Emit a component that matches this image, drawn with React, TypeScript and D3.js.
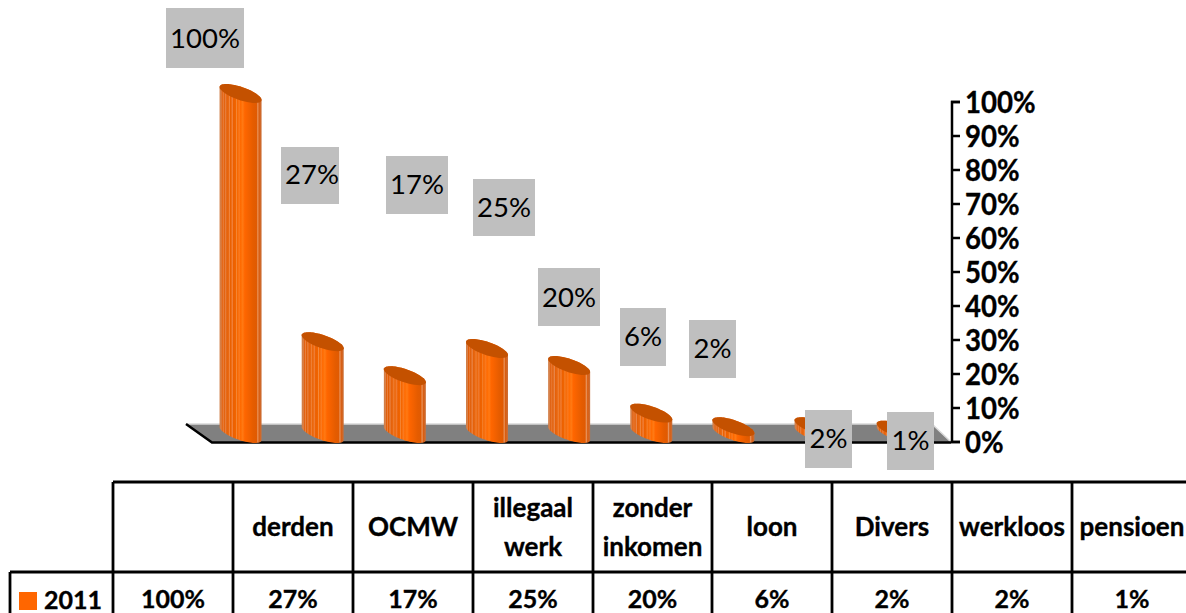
import React from "react";
import * as d3 from "d3";

const categories = ["", "derden", "OCMW", "illegaal werk", "zonder inkomen", "loon", "Divers", "werkloos", "pensioen"];
const values2011 = [100, 27, 17, 25, 20, 6, 2, 2, 1];
const seriesName = "2011";
const axisTicks = [0, 10, 20, 30, 40, 50, 60, 70, 80, 90, 100];
// label box layout: left, top, width, height, text nudge x, text nudge y
const labelBoxes = [
  [166, 8, 78, 60, 0, 0], [281, 147, 58, 57, 2, -2], [386, 156, 62, 58, 0, -1], [473, 179, 62, 57, 0, -1], [538, 268, 62, 58, 0, 0],
  [620, 308, 46, 58, 0, -1], [689, 320, 47, 58, 0, -1], [805, 410, 47, 58, 0, -1], [887, 412, 47, 58, 0, -1],
];
const tableCols = [113, 233, 353, 473, 593, 712, 832, 952, 1072, 1192];
const gradientStops: [number, string][] = [
  [0, "#cf7a42"], [0.04, "#d9824a"], [0.06, "#e25c08"], [0.09, "#e8813f"], [0.11, "#e25c04"], [0.15, "#e8864a"], [0.17, "#e46008"],
  [0.22, "#ea6a14"], [0.24, "#f08a45"], [0.26, "#ea6000"], [0.31, "#f0803a"], [0.33, "#ec6000"], [0.38, "#f06400"], [0.4, "#f58a3c"],
  [0.42, "#f56600"], [0.47, "#fa7a20"], [0.5, "#ff6a00"], [0.55, "#ff7a14"], [0.6, "#ff6600"], [0.72, "#f06000"], [0.8, "#e55c00"],
  [0.88, "#e05a02"], [0.91, "#e8935c"], [0.94, "#d95d10"], [1, "#c9703a"],
];

const FONT = "Lato, sans-serif";

function Squeezed({ x, y, sx, anchor, size, bold, children }: any) {
  return (
    <text
      transform={`translate(${x},${y}) scale(${sx},1)`}
      textAnchor={anchor}
      fontSize={size}
      fontWeight={bold ? 700 : 400}
      stroke={bold ? "#000" : "none"}
      strokeWidth={bold ? 0.35 : 0}
      fill="#000"
    >
      {children}
    </text>
  );
}

export default function App() {
  const y = d3.scaleLinear().domain([0, 100]).range([442, 102]);
  const x = d3.scaleBand<number>().domain(d3.range(9)).range([199.5, 938.8]).paddingInner(0.5).paddingOuter(0.25);
  const stepCenter = (i: number) => (x(i) as number) + x.bandwidth() / 2;
  const a = 21, b = 6.9, k = 6.5;
  const baseDrop = 8.5; // ellipse centre offset above the floor front edge
  const ell = (cx: number, cy: number, from: number, to: number) =>
    d3.range(0, 41).map((n) => {
      const t = from + ((to - from) * n) / 40;
      return [cx + a * Math.cos(t), cy + b * Math.sin(t) + k * Math.cos(t)] as [number, number];
    });
  const line = d3.line();
  return (
    <svg width={1186} height={613} style={{ position: "absolute", left: 0, top: 0, fontFamily: FONT }}>
      <defs>
        <linearGradient id="cyl" x1="0" x2="1" y1="0" y2="0">
          {gradientStops.map(([o, c], i) => <stop key={i} offset={o} stopColor={c} />)}
        </linearGradient>
      </defs>
      <path d="M186,424L932,424L951,442L212,442Z" fill="#808080" />
      <path d="M186,424L932,424L951,442" fill="none" stroke="#d9d9d9" strokeWidth={1.5} />
      <path d="M186,424L212,442.5L951,442.5" fill="none" stroke="#000" strokeWidth={2.5} />
      {values2011.map((v, i) => {
        const cx = stepCenter(i);
        const top = y(v) - baseDrop;
        const bot = y(0) - baseDrop;
        const body = [...ell(cx, top, Math.PI, 2 * Math.PI), ...ell(cx, bot, 0, Math.PI)];
        return (
          <g key={i}>
            <path d={line(body)! + "Z"} fill="url(#cyl)" />
            <path d={line(ell(cx, top, 0, 2 * Math.PI))! + "Z"} fill="#c45100" />
          </g>
        );
      })}
      {values2011.map((v, i) => {
        const [l, t, w, h, nx, ny] = labelBoxes[i];
        return (
          <g key={i}>
            <rect x={l} y={t} width={w} height={h} fill="#bfbfbf" />
            <text x={l + w / 2 + nx} y={t + h / 2 + 10 + ny} textAnchor="middle" fontSize={27.5} fill="#000">{v}%</text>
          </g>
        );
      })}
      <path d={`M960,${y(100)}H952V${y(0)}H960`} fill="none" stroke="#000" strokeWidth={2.5} />
      {axisTicks.map((t) => (
        <g key={t}>
          <line x1={951} x2={960} y1={y(t)} y2={y(t)} stroke="#000" strokeWidth={2.5} />
          <Squeezed x={965} y={y(t) + 11} sx={0.92} size={30} bold>{t}%</Squeezed>
        </g>
      ))}
      <g stroke="#000" strokeWidth={2.8} fill="none">
        <path d="M113,482H1186" />
        <path d="M10,572H1186" />
        <path d="M10,572V613" />
        {tableCols.map((c) => <path key={c} d={`M${c},482V613`} />)}
      </g>
      {categories.map((c, i) => {
        const cxx = (tableCols[i] + tableCols[i + 1]) / 2;
        const parts = c.split(" ");
        return parts.map((p, j) => (
          <Squeezed key={i + "-" + j} x={cxx} y={parts.length > 1 ? 517 + j * 39 : 536} sx={1} anchor="middle" size={26} bold>{p}</Squeezed>
        ));
      })}
      <rect x={19} y={592} width={18} height={18} fill="#ff6600" />
      <Squeezed x={44} y={609} sx={1} size={25} bold>{seriesName}</Squeezed>
      {values2011.map((v, i) => (
        <Squeezed key={i} x={(tableCols[i] + tableCols[i + 1]) / 2} y={608} sx={1} anchor="middle" size={25} bold>{v}%</Squeezed>
      ))}
    </svg>
  );
}
